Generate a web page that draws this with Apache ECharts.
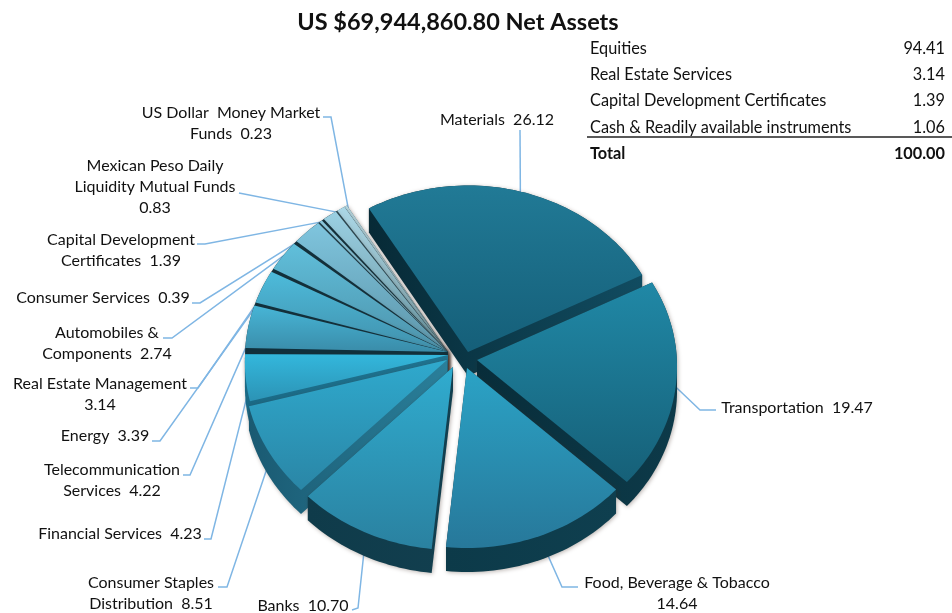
<!DOCTYPE html>
<html>
<head>
<meta charset="utf-8">
<title>Net Assets</title>
<script src="https://cdn.jsdelivr.net/npm/echarts@6/dist/echarts.min.js"></script>
<style>
html, body { margin: 0; padding: 0; background: #fff; }
#chart { width: 952px; height: 613px; }
</style>
</head>
<body>
<div id="chart"></div>
<script>
var titleText = 'US $69,944,860.80 Net Assets';

// sectors, in drawing order round the pie. \n is where the label wraps
var categories = [
    'Materials', 'Transportation', 'Food, Beverage & Tobacco\n', 'Banks',
    'Consumer Staples\nDistribution', 'Financial Services', 'Telecommunication\nServices',
    'Energy', 'Real Estate Management\n', 'Automobiles &\nComponents', 'Consumer Services',
    'Capital Development\nCertificates', 'Mexican Peso Daily\nLiquidity Mutual Funds\n',
    'US Dollar  Money Market\nFunds'
];
var sectorValues = [26.12, 19.47, 14.64, 10.70, 8.51, 4.23, 4.22, 3.39, 3.14, 2.74, 0.39, 1.39, 0.83, 0.23];

var tableNames = ['Equities', 'Real Estate Services', 'Capital Development Certificates', 'Cash & Readily available instruments', 'Total'];
var tableValues = ['94.41', '3.14', '1.39', '1.06', '100.00'];

// layout and colours, per sector
var sliceShift = [[20, 0], [29, 8], [19, 16], [5, 15], [-1, 8], [0, 3], [0, 0], [0, 0], [0, 0], [0, 0], [0, 0], [0, 0], [0, 0], [0, 0]];
var sliceScale = [0.97, 0.975, 0.97, 0.985, 0.99, 0.99, 0.99, 0.99, 0.99, 0.99, 0.99, 0.99, 0.99, 0.99];
var sliceInset = [0, 0, 0, 0, 0, 0, 1.1, 1.1, 1.1, 1.1, 0.5, 0.7, 0.5, 0];
var topColors = [
    ['#217a96', '#155f79'], ['#2088a6', '#166078'], ['#2ba3c6', '#27789a'], ['#30accf', '#2a81a0'],
    ['#2fa9cd', '#2a86a6'], ['#33b7dc', '#2c93b5'], ['#47b5d6', '#3a8ca9'], ['#4dbbdb', '#4190ab'],
    ['#60bfdb', '#4d92aa'], ['#7fc5de', '#5d95a9'], ['#8bcae0', '#66939f'], ['#9ad0e3', '#6b959f'],
    ['#abd7e6', '#75979f'], ['#bcdfe9', '#7f9ca2']
];
var wallColors = [
    ['#072a36', '#114c61'], ['#082d3a', '#0d3a49'], ['#0c3a49', '#0f3f4f'], ['#0f3b4a', '#123f4f'],
    ['#1a5a72', '#2a7f9a'], ['#1a6a86', '#1f7390'], ['#10303c', '#10303c'], ['#10303c', '#10303c'],
    ['#10303c', '#10303c'], ['#10303c', '#10303c'], ['#1b3b47', '#1b3b47'], ['#10303c', '#10303c'],
    ['#2b4a55', '#2b4a55'], ['#3c5b66', '#3c5b66']
];
// leader elbows and label centres
var leaderBends = [
    [[520, 130]], [[700, 410], [716, 410]], [[562, 587], [578, 587]], [[358, 608], [352, 610]],
    [[227, 587], [218, 587]], [[211, 539], [204, 539]], [[190, 475], [183, 475]],
    [[160, 441], [152, 441]], [[198, 388], [190, 388]], [[172, 338], [163, 338]],
    [[200, 303], [192, 303]], [[205, 244], [197, 244]], [[239, 193]], [[331, 117], [323, 117]]
];
var labelCenters = [
    [497, 120], [797, 408], [677, 593], [303, 606], [151, 593], [120, 534], [112, 480],
    [105, 436], [100, 394], [107, 343], [103, 298], [121, 250], [155, 187], [231, 123]
];

var pieCx = 448, pieCy = 352, pieR = 205, tilt = 0.87, persp = 0.04, pieDepth = 24;
var startAngle = -121;

var total = sectorValues.reduce(function(a, b) { return a + b; }, 0);
var sliceAngles = [];
var cum = 0;
sectorValues.forEach(function(v) {
    sliceAngles.push([startAngle + cum / total * 360, startAngle + (cum + v) / total * 360]);
    cum += v;
});

function project(deg, r, shift) {
    var u = Math.cos(deg * Math.PI / 180) * r;
    var v = Math.sin(deg * Math.PI / 180) * r;
    var p = 1 / (1 - persp * v);
    return [pieCx + shift[0] + pieR * u * p, pieCy + shift[1] + pieR * tilt * v * p];
}

function outline(a0, a1, scale, shift) {
    var pts = [project(0, 0, shift)];
    var n = Math.ceil((a1 - a0) / 1.5);
    for (var i = 0; i <= n; i++) {
        pts.push(project(a0 + (a1 - a0) * i / n, scale, shift));
    }
    return pts;
}

function convexHull(points) {
    var pts = points.slice().sort(function(a, b) { return a[0] - b[0] || a[1] - b[1]; });
    function cross(o, a, b) { return (a[0] - o[0]) * (b[1] - o[1]) - (a[1] - o[1]) * (b[0] - o[0]); }
    function half(list) {
        var out = [];
        list.forEach(function(p) {
            while (out.length >= 2 && cross(out[out.length - 2], out[out.length - 1], p) <= 0) out.pop();
            out.push(p);
        });
        out.pop();
        return out;
    }
    return half(pts).concat(half(pts.slice().reverse()));
}

function vGrad(c) {
    return new echarts.graphic.LinearGradient(0, 0, 0, 1, [{ offset: 0, color: c[0] }, { offset: 1, color: c[1] }]);
}
function hGrad(c) {
    return new echarts.graphic.LinearGradient(0, 0, 1, 0, [{ offset: 0, color: c[0] }, { offset: 1, color: c[1] }]);
}

// paint from the back of the pie to the front
var paintOrder = sectorValues.map(function(v, i) { return i; }).sort(function(a, b) {
    var ma = (sliceAngles[a][0] + sliceAngles[a][1]) / 2, mb = (sliceAngles[b][0] + sliceAngles[b][1]) / 2;
    return Math.sin(ma * Math.PI / 180) - Math.sin(mb * Math.PI / 180);
});

function renderSlice(params, api) {
    var i = api.value(0);
    var a = sliceAngles[i], shift = sliceShift[i], scale = sliceScale[i];
    var full = outline(a[0], a[1], scale, shift);
    var shifted = full.map(function(p) { return [p[0], p[1] + pieDepth]; });
    return {
        type: 'group',
        children: [{
            type: 'polygon',
            shape: { points: convexHull(full.concat(shifted)) },
            style: { fill: hGrad(wallColors[i]), shadowBlur: 4, shadowColor: 'rgba(60,40,30,0.35)', shadowOffsetX: 1, shadowOffsetY: 1 }
        }, {
            type: 'polygon',
            shape: { points: outline(a[0] + sliceInset[i], a[1], scale, shift) },
            style: { fill: vGrad(topColors[i]) }
        }]
    };
}

function labelText(i) {
    var name = categories[i];
    var sep = name.charAt(name.length - 1) === '\n' ? '' : '  ';
    return name + sep + sectorValues[i].toFixed(2);
}

function renderLabel(params, api) {
    var i = api.value(0);
    var a = sliceAngles[i];
    var rim = project((a[0] + a[1]) / 2, 0.96, sliceShift[i]);
    return {
        type: 'group',
        children: [{
            type: 'polyline',
            shape: { points: [rim].concat(leaderBends[i]) },
            style: { stroke: '#7fb6e4', lineWidth: 1.5, fill: null }
        }, {
            type: 'text',
            style: {
                text: labelText(i),
                x: labelCenters[i][0],
                y: labelCenters[i][1],
                align: 'center',
                verticalAlign: 'middle',
                fontFamily: 'Lato',
                fontSize: 16,
                lineHeight: 21,
                fill: '#111'
            }
        }]
    };
}

var tableRows = [49, 75, 101, 128, 154];
var tableGraphics = [{
    type: 'line',
    shape: { x1: 587, y1: 137, x2: 952, y2: 137 },
    style: { stroke: '#222', lineWidth: 1.5 }
}];
tableNames.forEach(function(name, i) {
    var isTotal = i === tableNames.length - 1;
    var font = (isTotal ? 'bold ' : '') + '16.3px Lato';
    tableGraphics.push({
        type: 'text',
        style: { text: name, x: 590, y: tableRows[i], verticalAlign: 'middle', font: font, fill: '#111' }
    });
    tableGraphics.push({
        type: 'text',
        style: { text: tableValues[i], x: 945, y: tableRows[i], align: 'right', verticalAlign: 'middle', font: font, fill: '#111' }
    });
});

var myChart = echarts.init(document.getElementById('chart'));
myChart.setOption({
    animation: false,
    backgroundColor: '#fff',
    title: {
        text: titleText,
        left: 453,
        top: 5,
        textAlign: 'center',
        textStyle: { fontFamily: 'Lato', fontSize: 23.5, fontWeight: 'bold', color: '#111' }
    },
    graphic: tableGraphics,
    series: [{
        type: 'custom',
        coordinateSystem: 'none',
        z: 1,
        clip: false,
        silent: true,
        renderItem: renderLabel,
        data: sectorValues.map(function(v, i) { return [i, v]; })
    }, {
        type: 'custom',
        coordinateSystem: 'none',
        z: 2,
        clip: false,
        silent: true,
        renderItem: renderSlice,
        data: paintOrder.map(function(i) { return [i, sectorValues[i]]; })
    }]
});
</script>
</body>
</html>
